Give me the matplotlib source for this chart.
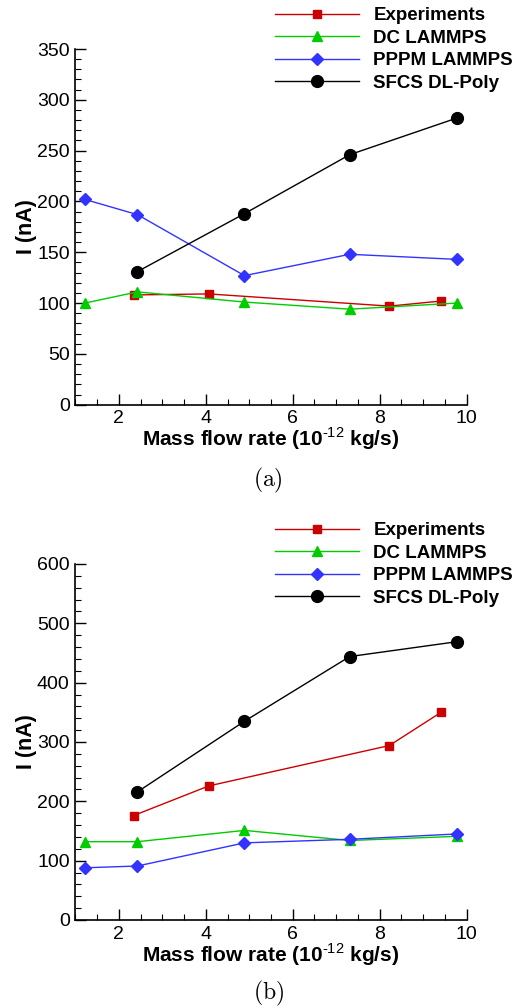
import matplotlib
matplotlib.use("Agg")
import matplotlib.pyplot as plt
from matplotlib.ticker import MultipleLocator

plt.rcParams['font.family'] = ['Liberation Sans', 'DejaVu Sans']
plt.rcParams['mathtext.fontset'] = 'custom'
plt.rcParams['mathtext.rm'] = 'cmr10'
plt.rcParams['mathtext.sf'] = 'Liberation Sans'

labels = ['Experiments', 'DC LAMMPS', 'PPPM LAMMPS', 'SFCS DL-Poly']
colors = ['#cc0000', '#00cc00', '#3333ff', 'black']
markers = ['s', '^', 'D', 'o']
msizes = [6, 7, 6.5, 8.5]

# panel (a)
exp_x_a = [2.34, 4.07, 8.22, 9.41]
exp_y_a = [108, 109, 97, 102]
dc_x_a = [1.22, 2.43, 4.89, 7.31, 9.77]
dc_y_a = [100, 111, 101, 94, 100]
pppm_x_a = [1.22, 2.43, 4.89, 7.31, 9.77]
pppm_y_a = [202, 187, 127, 148, 143]
sfcs_x_a = [2.43, 4.89, 7.31, 9.77]
sfcs_y_a = [131, 188, 246, 282]

# panel (b)
exp_x_b = [2.34, 4.07, 8.22, 9.41]
exp_y_b = [176, 226, 294, 350]
dc_x_b = [1.22, 2.43, 4.89, 7.31, 9.77]
dc_y_b = [132, 132, 151, 134, 141]
pppm_x_b = [1.22, 2.43, 4.89, 7.31, 9.77]
pppm_y_b = [88, 91, 130, 136, 145]
sfcs_x_b = [2.43, 4.89, 7.31, 9.77]
sfcs_y_b = [216, 335, 444, 469]

W, H = 516, 1008
fig = plt.figure(figsize=(W / 100, H / 100), dpi=100)


def panel(rect, series, ymax, caption, cap_y, leg_top):
    ax = fig.add_axes(rect)
    for (xs, ys), lab, c, m, ms in zip(series, labels, colors, markers, msizes):
        ax.plot(xs, ys, color=c, marker=m, markersize=ms, lw=1.0,
                markerfacecolor=c, markeredgecolor=c, label=lab, clip_on=False)
    ax.set_xlim(1, 10)
    ax.set_ylim(0, ymax)
    ax.xaxis.set_major_locator(MultipleLocator(2))
    ax.xaxis.set_minor_locator(MultipleLocator(0.5))
    ax.yaxis.set_major_locator(MultipleLocator(50 if ymax < 400 else 100))
    ax.yaxis.set_minor_locator(MultipleLocator(10 if ymax < 400 else 20))
    for s in ['top', 'right']:
        ax.spines[s].set_visible(False)
    for s in ['left', 'bottom']:
        ax.spines[s].set_linewidth(1.2)
    ax.tick_params(which='major', direction='in', length=8, width=1.0,
                   labelsize=14, pad=4)
    ax.tick_params(which='minor', direction='in', length=4, width=0.8)
    ax.set_xlabel('Mass flow rate (10$^{\\mathsf{\u2010 12}}$ kg/s)', fontsize=15,
                  fontweight='bold', labelpad=-1)
    ax.set_ylabel('I (nA)', fontsize=15.5, fontweight='bold')
    ax.yaxis.set_label_coords(-0.097, 0.5)
    ax.legend(loc='upper left', bbox_to_anchor=(275 / W, leg_top),
              bbox_transform=fig.transFigure, frameon=False, numpoints=1,
              handlelength=4.5, handletextpad=0.75, labelspacing=0.29,
              borderaxespad=0, borderpad=0,
              prop={'weight': 'bold', 'size': 13.5})
    fig.text(0.52, cap_y, r'$\mathrm{(' + caption + r')}$', ha='center',
             va='center', fontsize=17)
    return ax


panel([75.3 / W, 1 - 404.7 / H, 391.4 / W, 355.7 / H],
      [(exp_x_a, exp_y_a), (dc_x_a, dc_y_a), (pppm_x_a, pppm_y_a), (sfcs_x_a, sfcs_y_a)],
      350, 'a', 1 - 480 / H, 1 - 7 / H)
panel([75.3 / W, 1 - 920 / H, 391.4 / W, 356 / H],
      [(exp_x_b, exp_y_b), (dc_x_b, dc_y_b), (pppm_x_b, pppm_y_b), (sfcs_x_b, sfcs_y_b)],
      600, 'b', 1 - 993 / H, 1 - 522 / H)

fig.savefig('out.png', dpi=100)
